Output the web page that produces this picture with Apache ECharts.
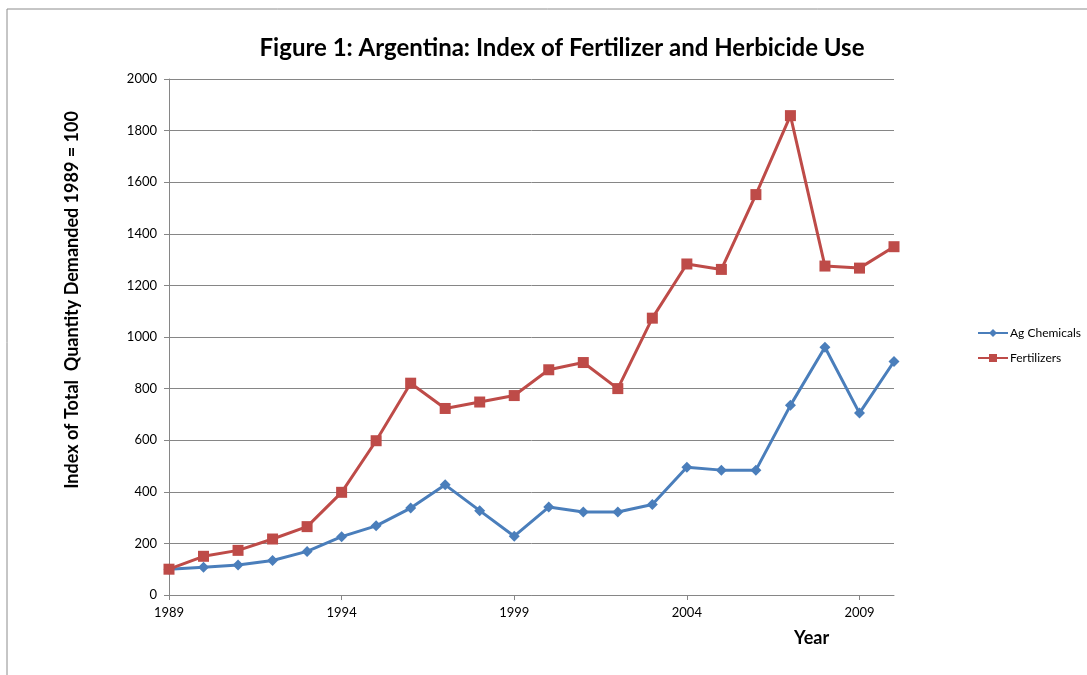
<!DOCTYPE html>
<html>
<head>
<meta charset="utf-8">
<script src="https://cdn.jsdelivr.net/npm/echarts@6/dist/echarts.min.js"></script>
<style>
  html, body { margin: 0; padding: 0; background: #fff; }
  #chart { width: 1087px; height: 675px; }
</style>
</head>
<body>
<div id="chart"></div>
<script>
// years on the x axis
const years = ['1989', '1990', '1991', '1992', '1993', '1994', '1995', '1996', '1997', '1998', '1999',
  '2000', '2001', '2002', '2003', '2004', '2005', '2006', '2007', '2008', '2009', '2010'];

// index values, 1989 = 100
const agChemicals = [100, 108, 116, 134, 169, 226, 268, 337, 427, 327, 228,
  341, 322, 322, 351, 495, 484, 484, 735, 960, 705, 905];
const fertilizers = [100, 150, 173, 217, 265, 398, 598, 821, 723, 748, 773,
  873, 901, 800, 1073, 1283, 1262, 1552, 1858, 1275, 1267, 1350];

const font = 'Lato, "Liberation Sans", sans-serif';
const axisGray = '#868686';

const chart = echarts.init(document.getElementById('chart'));

chart.setOption({
  animation: false,
  backgroundColor: '#fff',
  title: {
    text: 'Figure 1: Argentina: Index of Fertilizer and Herbicide Use',
    left: 557,
    top: 31,
    textAlign: 'center',
    textStyle: { fontFamily: font, fontWeight: 'bold', fontSize: 24, color: '#000' }
  },
  legend: {
    orient: 'vertical',
    left: 972,
    top: 322,
    itemWidth: 30,
    itemHeight: 10,
    itemGap: 13,
    textStyle: { fontFamily: font, fontSize: 12, color: '#000', padding: [0, 0, 0, -3] },
    data: ['Ag Chemicals', 'Fertilizers']
  },
  grid: { left: 169, right: 193, top: 79, bottom: 80 },
  xAxis: {
    type: 'category',
    data: years,
    boundaryGap: false,
    axisLine: { lineStyle: { color: axisGray } },
    axisTick: { interval: 4, length: 5, lineStyle: { color: axisGray } },
    axisLabel: { interval: 4, margin: 11, fontFamily: font, fontSize: 13, color: '#000' },
    splitLine: { show: false }
  },
  yAxis: {
    type: 'value',
    min: 0,
    max: 2000,
    interval: 200,
    name: 'Index of Total  Quantity Demanded 1989 = 100',
    nameLocation: 'middle',
    nameGap: 88,
    nameTextStyle: { fontFamily: font, fontWeight: 'bold', fontSize: 18, color: '#000', padding: [0, 0, 0, 74] },
    axisLine: { show: true, lineStyle: { color: axisGray } },
    axisTick: { show: true, length: 5, lineStyle: { color: axisGray } },
    axisLabel: { margin: 12, fontFamily: font, fontSize: 13, color: '#000', formatter: v => String(v) },
    splitLine: { lineStyle: { color: axisGray, width: 1 } }
  },
  graphic: [
    {
      type: 'rect',
      silent: true,
      shape: { x: 7, y: 9, width: 1200, height: 800 },
      style: { fill: 'none', stroke: '#8c8c8c', lineWidth: 1 }
    },
    {
      type: 'text',
      left: 794,
      top: 629,
      style: { text: 'Year', font: 'bold 18px ' + font, fill: '#000' }
    }
  ],
  series: [
    {
      name: 'Ag Chemicals',
      type: 'line',
      data: agChemicals,
      symbol: 'diamond',
      symbolSize: 11,
      color: '#4A7EBB',
      lineStyle: { width: 3 }
    },
    {
      name: 'Fertilizers',
      type: 'line',
      data: fertilizers,
      symbol: 'rect',
      symbolSize: 11,
      color: '#BE4B48',
      lineStyle: { width: 3 }
    }
  ]
});
</script>
</body>
</html>
